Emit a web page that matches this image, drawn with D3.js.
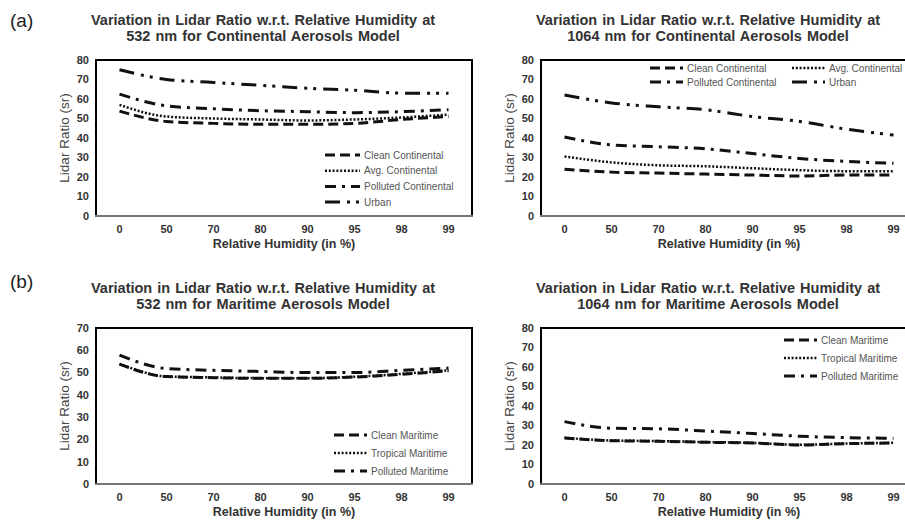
<!DOCTYPE html>
<html>
<head>
<meta charset="utf-8">
<script src="https://cdn.jsdelivr.net/npm/d3@7"></script>
<style>
  body { margin: 0; background: #fff; }
  svg { font-family: "Liberation Sans", Arial, sans-serif; }
</style>
</head>
<body>
<svg width="905" height="521"></svg>
<script>
// relative humidity categories (x axis)
const humidity = ["0", "50", "70", "80", "90", "95", "98", "99"];

// 532 nm continental
const clean532 = [53.8, 48.5, 47.5, 47, 47, 47.5, 49.5, 51];
const avg532 = [57, 51, 50, 49.5, 49, 49.5, 50.5, 52];
const polluted532 = [62.5, 56.5, 55, 54, 53.5, 53, 53.5, 54.5];
const urban532 = [75, 70, 68.5, 67, 65.5, 64.5, 63, 63];

// 1064 nm continental
const clean1064 = [24, 22.5, 22, 21.5, 21, 20.5, 21, 21];
const avg1064 = [30.5, 27.5, 26, 25.5, 24.5, 23.5, 23, 23];
const polluted1064 = [40.5, 36.5, 35.5, 34.5, 32, 29.5, 28, 27];
const urban1064 = [62, 58, 56, 54.5, 51, 48.5, 44.5, 41.5];

// 532 nm maritime
const cleanMar532 = [53.8, 48.2, 47.7, 47.4, 47.4, 48, 49.2, 50.8];
const tropicalMar532 = [53.9, 48.3, 47.8, 47.5, 47.5, 48.1, 49.4, 51];
const pollutedMar532 = [57.8, 51.8, 51, 50.5, 50, 50, 51, 52];

// 1064 nm maritime
const cleanMar1064 = [23.6, 22.2, 21.9, 21.4, 21, 20, 20.7, 21];
const tropicalMar1064 = [23.7, 22.3, 22, 21.5, 21.1, 20.1, 20.8, 21.1];
const pollutedMar1064 = [32, 28.6, 28.3, 27.2, 25.9, 24.5, 23.8, 23.4];

const yTicks80 = [0, 10, 20, 30, 40, 50, 60, 70, 80];
const yTicks70 = [0, 10, 20, 30, 40, 50, 60, 70];

// line styles
const styles = {
  dash: {dash: "10,5", w: 3},
  dot: {dash: "2,1.8", w: 2.5},
  dashDot: {dash: "11,6,3,6", w: 3},
  longDashDotDot: {dash: "15,7,3,6,3,7", w: 3}
};

const svg = d3.select("svg");
svg.append("rect").attr("width", 905).attr("height", 521).attr("fill", "#fff");

function drawPanel(p) {
  const w = 376, h = 156;
  const g = svg.append("g").attr("transform", `translate(${p.left}, ${p.top})`);

  const x = d3.scalePoint().domain(humidity).range([0, w]).padding(0.5);
  const y = d3.scaleLinear().domain([0, p.ymax]).range([h, 0]);

  // title
  p.title.forEach((t, i) => {
    svg.append("text")
      .attr("x", p.left + w / 2 - 21)
      .attr("y", p.top - 35 + i * 16)
      .attr("text-anchor", "middle")
      .attr("font-size", "14.5px")
      .attr("font-weight", "bold")
      .attr("fill", "#333")
      .attr("word-spacing", "1px")
      .text(t);
  });

  // y tick labels
  g.selectAll(".ytick").data(p.yTicks).enter().append("text")
    .attr("x", -7)
    .attr("y", d => y(d))
    .attr("dy", "0.35em")
    .attr("text-anchor", "end")
    .attr("font-size", "11px")
    .attr("font-weight", "bold")
    .attr("fill", "#333")
    .text(d => d);

  // x tick labels
  g.selectAll(".xtick").data(humidity).enter().append("text")
    .attr("x", d => x(d))
    .attr("y", h + 17)
    .attr("text-anchor", "middle")
    .attr("font-size", "11px")
    .attr("font-weight", "bold")
    .attr("fill", "#333")
    .text(d => d);

  // axis titles
  g.append("text")
    .attr("x", w / 2)
    .attr("y", h + 32)
    .attr("text-anchor", "middle")
    .attr("font-size", "12.5px")
    .attr("font-weight", "bold")
    .attr("fill", "#333")
    .text("Relative Humidity (in %)");

  g.append("text")
    .attr("transform", `translate(-27, ${h / 2}) rotate(-90)`)
    .attr("text-anchor", "middle")
    .attr("font-size", "13.5px")
    .attr("fill", "#444")
    .text("Lidar Ratio (sr)");

  // frame
  g.append("path")
    .attr("d", `M0,${h} V0 H${w} V${h}`)
    .attr("fill", "none")
    .attr("stroke", "#000")
    .attr("stroke-width", 2);
  g.append("line")
    .attr("x1", -1).attr("x2", w + 1)
    .attr("y1", h).attr("y2", h)
    .attr("stroke", "#777")
    .attr("stroke-width", 2);

  const line = d3.line()
    .x((d, i) => x(humidity[i]))
    .y(d => y(d))
    .curve(d3.curveMonotoneX);

  p.series.forEach(s => {
    const st = styles[s.style];
    g.append("path")
      .datum(s.values)
      .attr("d", line)
      .attr("fill", "none")
      .attr("stroke", "#111")
      .attr("stroke-width", st.w)
      .attr("stroke-dasharray", st.dash);
  });

  // legend
  const lg = p.legend;
  p.series.forEach((s, i) => {
    const col = i % lg.cols, row = Math.floor(i / lg.cols);
    const lx = lg.x + col * lg.colW, ly = lg.y + row * lg.rowH;
    const st = styles[s.style];
    g.append("line")
      .attr("x1", lx).attr("x2", lx + lg.len)
      .attr("y1", ly).attr("y2", ly)
      .attr("stroke", "#111")
      .attr("stroke-width", st.w)
      .attr("stroke-dasharray", st.dash);
    g.append("text")
      .attr("x", lx + lg.len + 4)
      .attr("y", ly)
      .attr("dy", "0.35em")
      .attr("font-size", "10px")
      .attr("fill", "#555")
      .text(s.name);
  });
}

drawPanel({
  left: 96, top: 60, ymax: 80, yTicks: yTicks80,
  title: ["Variation in Lidar Ratio w.r.t. Relative Humidity at", "532 nm for Continental Aerosols Model"],
  series: [
    {name: "Clean Continental", values: clean532, style: "dash"},
    {name: "Avg. Continental", values: avg532, style: "dot"},
    {name: "Polluted Continental", values: polluted532, style: "dashDot"},
    {name: "Urban", values: urban532, style: "longDashDotDot"}
  ],
  legend: {x: 229, y: 95, rowH: 15.7, cols: 1, colW: 0, len: 35}
});

drawPanel({
  left: 541, top: 60, ymax: 80, yTicks: yTicks80,
  title: ["Variation in Lidar Ratio w.r.t. Relative Humidity at", "1064 nm for Continental Aerosols Model"],
  series: [
    {name: "Clean Continental", values: clean1064, style: "dash"},
    {name: "Avg. Continental", values: avg1064, style: "dot"},
    {name: "Polluted Continental", values: polluted1064, style: "dashDot"},
    {name: "Urban", values: urban1064, style: "longDashDotDot"}
  ],
  legend: {x: 109, y: 8, rowH: 14, cols: 2, colW: 142, len: 33}
});

drawPanel({
  left: 96, top: 328, ymax: 70, yTicks: yTicks70,
  title: ["Variation in Lidar Ratio w.r.t. Relative Humidity at", "532 nm for Maritime Aerosols Model"],
  series: [
    {name: "Clean Maritime", values: cleanMar532, style: "dash"},
    {name: "Tropical Maritime", values: tropicalMar532, style: "dot"},
    {name: "Polluted Maritime", values: pollutedMar532, style: "dashDot"}
  ],
  legend: {x: 238, y: 107, rowH: 18, cols: 1, colW: 0, len: 33}
});

drawPanel({
  left: 541, top: 328, ymax: 80, yTicks: yTicks80,
  title: ["Variation in Lidar Ratio w.r.t. Relative Humidity at", "1064 nm for Maritime Aerosols Model"],
  series: [
    {name: "Clean Maritime", values: cleanMar1064, style: "dash"},
    {name: "Tropical Maritime", values: tropicalMar1064, style: "dot"},
    {name: "Polluted Maritime", values: pollutedMar1064, style: "dashDot"}
  ],
  legend: {x: 243, y: 12, rowH: 18, cols: 1, colW: 0, len: 33}
});

// panel letters
svg.append("text").attr("x", 10).attr("y", 27).attr("font-size", "19px").attr("fill", "#222").text("(a)");
svg.append("text").attr("x", 10).attr("y", 288).attr("font-size", "19px").attr("fill", "#222").text("(b)");
</script>
</body>
</html>
